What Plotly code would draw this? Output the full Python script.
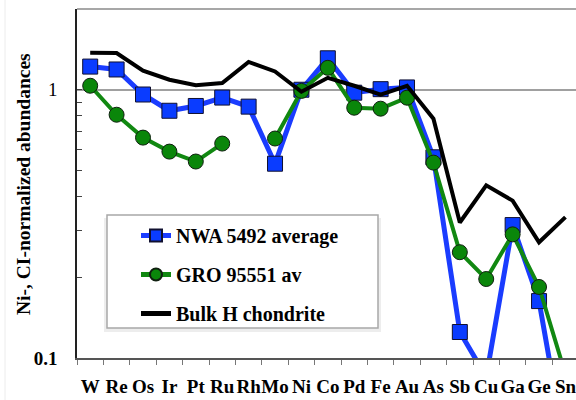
import plotly.graph_objects as go

elements = ["W", "Re", "Os", "Ir", "Pt", "Ru", "Rh", "Mo", "Ni", "Co",
            "Pd", "Fe", "Au", "As", "Sb", "Cu", "Ga", "Ge", "Sn"]
nwa_5492 = [1.22, 1.19, 0.96, 0.835, 0.87, 0.935, 0.865, 0.53, 1.0, 1.31,
            0.975, 1.005, 1.02, 0.56, 0.125, 0.085, 0.313, 0.163, 0.045]
gro_95551 = [1.035, 0.807, 0.663, 0.588, 0.54, 0.63, None, 0.658, 0.99, 1.207,
             0.857, 0.85, 0.934, 0.535, 0.248, 0.197, 0.289, 0.184, 0.087]
bulk_h = [1.373, 1.37, 1.177, 1.09, 1.04, 1.06, 1.27, 1.17, 0.983, 1.108,
          1.035, 0.958, 1.035, 0.78, 0.32, 0.44, 0.386, 0.27, 0.335]

SERIF = "Liberation Serif"
W, H = 576, 400
L, R, T, B = 77, 0, 9, 42
pw, ph = W - L - R, H - T - B

def px_x(x):
    return (x - L) / pw

def px_y(y):
    return (H - B - y) / ph

fig = go.Figure()
fig.add_trace(go.Scatter(
    x=elements, y=nwa_5492, name="<b>NWA 5492 average</b>", mode="lines+markers",
    line=dict(color="#1a3cff", width=5),
    marker=dict(symbol="square", size=15, color="#0a3cff",
                line=dict(color="#101030", width=1)),
    legendgroup="a"))
fig.add_trace(go.Scatter(
    x=elements, y=gro_95551, name="<b>GRO 95551 av</b>", mode="lines+markers",
    line=dict(color="#118811", width=4), connectgaps=False,
    marker=dict(symbol="circle", size=15, color="#0a860a",
                line=dict(color="#102010", width=1)),
    legendgroup="b"))
fig.add_trace(go.Scatter(
    x=elements, y=bulk_h, name="<b>Bulk H chondrite</b>", mode="lines",
    line=dict(color="black", width=4),
    legendgroup="c"))

shapes = [
    dict(type="line", xref="paper", yref="paper", x0=0, x1=1, y0=1, y1=1,
         line=dict(color="#8a8a8a", width=1.5), layer="above"),
    dict(type="line", xref="paper", yref="paper", x0=px_x(5), x1=px_x(5),
         y0=px_y(0), y1=px_y(400), line=dict(color="#ececec", width=1)),
    dict(type="rect", xref="paper", yref="paper",
         x0=px_x(104), x1=px_x(381), y0=px_y(218), y1=px_y(332),
         fillcolor="rgba(0,0,0,0.07)", line=dict(width=0), layer="above"),
    dict(type="rect", xref="paper", yref="paper",
         x0=px_x(107), x1=px_x(378), y0=px_y(215), y1=px_y(328),
         fillcolor="white", line=dict(color="#a8a8a8", width=1.5), layer="above"),
]

fig.update_layout(
    width=W, height=H,
    margin=dict(l=L, r=R, t=T, b=B),
    plot_bgcolor="white", paper_bgcolor="white",
    font=dict(family=SERIF, color="black"),
    showlegend=True,
    legend=dict(x=px_x(136), y=px_y(216), xanchor="left", yanchor="top",
                bgcolor="rgba(0,0,0,0)", borderwidth=0,
                font=dict(family=SERIF, size=20, color="black"),
                traceorder="grouped", tracegroupgap=10, itemsizing="constant"),
    shapes=shapes,
    annotations=[dict(
        text="<b>Ni-, CI-normalized abundances</b>", textangle=-90,
        xref="paper", yref="paper", x=px_x(23), y=px_y(184),
        xanchor="center", yanchor="middle", showarrow=False,
        font=dict(family=SERIF, size=19.5, color="black"))],
)

fig.update_xaxes(
    type="category", range=[-0.5, 18.4],
    showline=True, linecolor="#555555", linewidth=1.5,
    ticks="outside", tickson="boundaries", ticklen=5, tickcolor="#777777",
    showgrid=False, zeroline=False, tickangle=0,
    tickfont=dict(family=SERIF, size=19, weight="bold", color="black"),
    ticklabelstandoff=10,
)
fig.update_yaxes(
    type="log", range=[-1, 0.301],
    showline=True, linecolor="#222222", linewidth=1.5,
    tickvals=[0.1, 1], ticktext=["<b>0.1</b>", "1"],
    ticks="inside", ticklen=5, tickcolor="#444444",
    showgrid=True, gridcolor="#a0a0a0", gridwidth=1.5,
    zeroline=False,
    tickfont=dict(family=SERIF, size=19, color="black"),
    ticklabelstandoff=14,
    minor=dict(tickvals=[0.2, 0.3, 0.4, 0.5, 0.6, 0.7, 0.8, 0.9],
               ticks="inside", ticklen=5, tickcolor="#444444", showgrid=False),
)

fig.write_html("out.html")
